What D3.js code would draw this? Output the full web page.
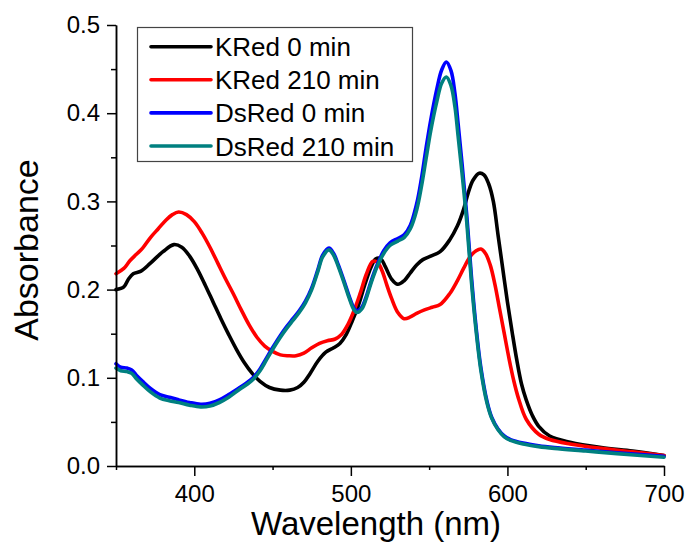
<!DOCTYPE html>
<html>
<head>
<meta charset="utf-8">
<script src="https://cdn.jsdelivr.net/npm/d3@7"></script>
<style>
  body { margin: 0; background: #fff; }
  svg { font-family: "Liberation Sans", Arial, sans-serif; }
</style>
</head>
<body>
<div class="chart"></div>
<script>
var svgWidth = 690;
var svgHeight = 544;

// Spectra (wavelength in nm, absorbance)
var kred0Wl = [350,355,358,361,366,372,380,387,392,397,402,407,412,417,422,427,432,437,442,448,455,461,466,470,474,479,484,489,493,497,501,505,509,513,516,519,522,526,530,534,538,542,546,551,557,563,568,572,575,578,582,585,588,591,594,597,600,603,606,609,612,616,620,627,640,660,680,700];
var kred0Abs = [0.200,0.203,0.212,0.218,0.221,0.230,0.243,0.251,0.248,0.238,0.223,0.205,0.186,0.167,0.149,0.132,0.117,0.105,0.096,0.089,0.086,0.086,0.089,0.095,0.105,0.119,0.129,0.134,0.139,0.149,0.165,0.183,0.206,0.226,0.235,0.235,0.226,0.212,0.206,0.210,0.219,0.228,0.234,0.238,0.243,0.256,0.272,0.291,0.310,0.324,0.332,0.330,0.320,0.300,0.262,0.224,0.186,0.152,0.120,0.093,0.075,0.057,0.045,0.034,0.027,0.021,0.017,0.012];

var kred210Wl = [350,355,359,363,367,372,377,382,386,390,395,400,405,410,415,420,425,430,435,440,445,450,455,460,465,470,475,480,485,490,494,498,502,506,510,514,517,520,523,526,530,534,538,542,547,552,557,563,568,572,576,580,583,586,589,592,595,598,601,604,607,612,620,627,640,660,680,700];
var kred210Abs = [0.218,0.224,0.233,0.240,0.247,0.259,0.269,0.279,0.285,0.288,0.285,0.277,0.264,0.248,0.230,0.212,0.195,0.177,0.160,0.146,0.136,0.130,0.126,0.125,0.125,0.128,0.134,0.139,0.142,0.144,0.149,0.160,0.176,0.196,0.218,0.232,0.231,0.221,0.205,0.190,0.174,0.167,0.169,0.173,0.177,0.180,0.183,0.195,0.210,0.224,0.237,0.244,0.246,0.241,0.228,0.206,0.178,0.150,0.122,0.097,0.077,0.053,0.036,0.030,0.025,0.020,0.016,0.012];

var ds0Wl = [350,353,357,360,363,367,372,378,384,390,397,404,410,416,422,429,434,438,442,446,450,455,459,463,467,471,475,479,482,486,489,492,496,499,502,504,507,510,513,517,521,525,530,534,538,542,545,548,551,555,558,561,564,566.5,568.5,571,574,577,580,583,587,590,594,598,602,610,620,630,650,670,700];
var ds0Abs = [0.116,0.112,0.111,0.109,0.103,0.096,0.088,0.081,0.078,0.075,0.072,0.070,0.071,0.075,0.081,0.089,0.095,0.101,0.110,0.122,0.134,0.148,0.158,0.167,0.176,0.187,0.202,0.223,0.239,0.247,0.241,0.228,0.208,0.192,0.179,0.176,0.180,0.193,0.210,0.229,0.244,0.253,0.258,0.262,0.273,0.297,0.325,0.360,0.392,0.428,0.449,0.458,0.448,0.422,0.388,0.343,0.285,0.215,0.157,0.112,0.073,0.055,0.042,0.034,0.030,0.026,0.023,0.021,0.018,0.015,0.011];

var ds210Wl = ds0Wl;
var ds210Abs = [0.111,0.108,0.107,0.105,0.099,0.092,0.084,0.077,0.074,0.072,0.069,0.067,0.068,0.072,0.078,0.087,0.093,0.099,0.108,0.120,0.132,0.146,0.156,0.165,0.174,0.185,0.200,0.221,0.237,0.245,0.239,0.226,0.206,0.190,0.177,0.174,0.178,0.191,0.208,0.227,0.241,0.250,0.255,0.259,0.269,0.290,0.316,0.348,0.380,0.414,0.434,0.441,0.431,0.407,0.374,0.332,0.277,0.209,0.153,0.109,0.071,0.054,0.041,0.033,0.029,0.025,0.022,0.020,0.017,0.014,0.010];

var seriesNames = ["KRed 0 min", "KRed 210 min", "DsRed 0 min", "DsRed 210 min"];
var seriesColors = ["#000000", "#ff0000", "#0000ff", "#008080"];

var xMajorTicks = [400, 500, 600, 700];
var xMinorTicks = [350, 450, 550, 650];
var yMajorTicks = [0, 0.1, 0.2, 0.3, 0.4, 0.5];
var yMinorTicks = [0.05, 0.15, 0.25, 0.35, 0.45];

var series = [
    { wl: kred0Wl, abs: kred0Abs },
    { wl: kred210Wl, abs: kred210Abs },
    { wl: ds0Wl, abs: ds0Abs },
    { wl: ds210Wl, abs: ds210Abs }
].map(function(s, i) {
    return {
        name: seriesNames[i],
        color: seriesColors[i],
        points: s.wl.map(function(w, j) { return [w, s.abs[j]]; })
    };
});

var svg = d3.select(".chart")
    .append("svg")
    .attr("width", svgWidth)
    .attr("height", svgHeight);

var xScale = d3.scaleLinear().domain([350, 700]).range([116, 664]);
var yScale = d3.scaleLinear().domain([0, 0.5]).range([466, 25]);

// curves
var line = d3.line()
    .x(d => xScale(d[0]))
    .y(d => yScale(d[1]))
    .curve(d3.curveCatmullRom.alpha(0.5));

svg.append("g")
    .selectAll("path")
    .data(series)
    .enter()
    .append("path")
    .attr("d", d => line(d.points))
    .attr("fill", "none")
    .attr("stroke", d => d.color)
    .attr("stroke-width", 3.6)
    .attr("stroke-linejoin", "round")
    .attr("stroke-linecap", "round");

// axes
svg.append("g")
    .attr("transform", "translate(0,466)")
    .call(d3.axisBottom(xScale).tickValues(xMajorTicks).tickSize(10).tickSizeOuter(0).tickPadding(9).tickFormat(d3.format("d")));
svg.append("g")
    .attr("transform", "translate(0,466)")
    .call(d3.axisBottom(xScale).tickValues(xMinorTicks).tickSize(4).tickSizeOuter(0).tickFormat(""));

svg.append("g")
    .attr("transform", "translate(116,0)")
    .call(d3.axisLeft(yScale).tickValues(yMajorTicks).tickSize(9).tickSizeOuter(0).tickPadding(7).tickFormat(d3.format(".1f")));
svg.append("g")
    .attr("transform", "translate(116,0)")
    .call(d3.axisLeft(yScale).tickValues(yMinorTicks).tickSize(5).tickSizeOuter(0).tickFormat(""));

svg.selectAll(".domain, .tick line")
    .attr("stroke", "#000")
    .attr("stroke-width", 1.5);
svg.selectAll(".tick text")
    .attr("font-size", 24)
    .attr("fill", "#000")
    .attr("font-family", "'Liberation Sans', Arial, sans-serif");

// axis titles
svg.append("text")
    .attr("x", 376)
    .attr("y", 535)
    .attr("text-anchor", "middle")
    .attr("font-size", 33)
    .text("Wavelength (nm)");

svg.append("text")
    .attr("transform", "translate(38,250) rotate(-90)")
    .attr("text-anchor", "middle")
    .attr("font-size", 34)
    .text("Absorbance");

// legend
var legend = svg.append("g");
legend.append("rect")
    .attr("x", 137.5)
    .attr("y", 27.5)
    .attr("width", 275)
    .attr("height", 134)
    .attr("fill", "#fff")
    .attr("stroke", "#444")
    .attr("stroke-width", 1.2);

var rows = legend.selectAll("g.row")
    .data(series)
    .enter()
    .append("g")
    .attr("class", "row")
    .attr("transform", (d, i) => `translate(0, ${46.7 + i * 33.1})`);

rows.append("line")
    .attr("x1", 151)
    .attr("x2", 211)
    .attr("stroke", d => d.color)
    .attr("stroke-width", 3.6)
    .attr("stroke-linecap", "round");

rows.append("text")
    .attr("x", 215)
    .attr("y", 9.5)
    .attr("font-size", 26)
    .text(d => d.name);
</script>
</body>
</html>
